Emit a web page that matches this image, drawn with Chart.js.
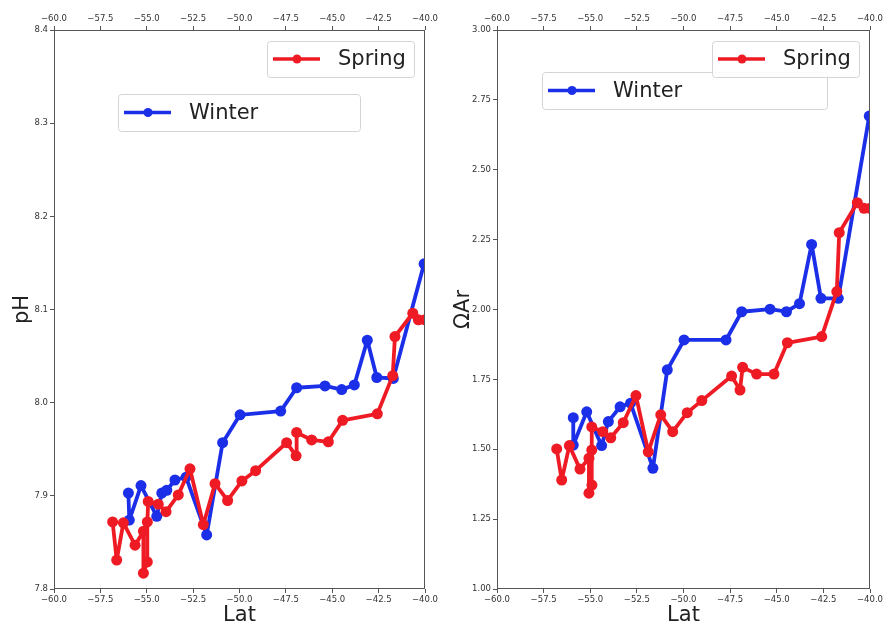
<!DOCTYPE html>
<html>
<head>
<meta charset="utf-8">
<script src="https://cdn.jsdelivr.net/npm/chart.js@4.4.0/dist/chart.umd.min.js"></script>
<style>
  html, body { margin: 0; padding: 0; background: #fff; }
  #wrap { position: relative; width: 883px; height: 627px; overflow: hidden; }
  .panel { position: absolute; top: 0; height: 627px; }
  #left { left: 0; width: 450px; }
  #right { left: 440px; width: 460px; }
</style>
</head>
<body>
<div id="wrap">
  <div class="panel" id="left"><canvas id="phChart"></canvas></div>
  <div class="panel" id="right"><canvas id="arChart"></canvas></div>
</div>
<script>
// Tick values shared by both panels
const latTicks = [-60, -57.5, -55, -52.5, -50, -47.5, -45, -42.5, -40];
const phTicks = [7.8, 7.9, 8.0, 8.1, 8.2, 8.3, 8.4];
const arTicks = [1.00, 1.25, 1.50, 1.75, 2.00, 2.25, 2.50, 2.75, 3.00];

// pH along the transect (latitude, pH), in sampling order
const phWinterLat = [-55.99, -55.94, -55.31, -54.46, -54.19, -53.92, -53.48, -52.88, -51.77, -50.91,
                     -49.97, -47.78, -46.92, -45.39, -44.49, -43.81, -43.11, -42.60, -41.71, -40.05];
const phWinterVal = [7.903, 7.874, 7.911, 7.878, 7.903, 7.906, 7.917, 7.920, 7.858, 7.957,
                     7.987, 7.991, 8.016, 8.018, 8.014, 8.019, 8.067, 8.027, 8.026, 8.149];

const phSpringLat = [-56.84, -56.62, -56.26, -55.63, -55.18, -55.18, -54.97, -54.97, -54.92, -54.38,
                     -53.96, -53.30, -52.67, -51.95, -51.32, -50.64, -49.87, -49.13, -47.46, -46.95,
                     -46.92, -46.11, -45.21, -44.44, -42.57, -41.74, -41.62, -40.66, -40.36, -40.00];
const phSpringVal = [7.872, 7.831, 7.871, 7.847, 7.862, 7.817, 7.829, 7.872, 7.894, 7.891,
                     7.883, 7.901, 7.929, 7.869, 7.913, 7.895, 7.916, 7.927, 7.957, 7.943,
                     7.968, 7.960, 7.958, 7.981, 7.988, 8.029, 8.071, 8.096, 8.089, 8.089];

// Aragonite saturation state along the transect
const arWinterLat = [-55.91, -55.91, -55.19, -54.39, -54.03, -53.40, -52.84, -51.64, -50.87, -49.97,
                     -47.72, -46.88, -45.36, -44.48, -43.78, -43.13, -42.63, -41.70, -40.04];
const arWinterVal = [1.613, 1.515, 1.634, 1.513, 1.599, 1.652, 1.665, 1.432, 1.784, 1.891,
                     1.891, 1.992, 2.001, 1.992, 2.021, 2.233, 2.040, 2.040, 2.692];

const arSpringLat = [-56.80, -56.53, -56.12, -55.55, -55.07, -55.07, -54.91, -54.92, -54.92, -54.33,
                     -53.90, -53.23, -52.55, -51.89, -51.22, -50.58, -49.80, -49.02, -47.42, -46.97,
                     -46.83, -46.08, -45.15, -44.43, -42.59, -41.78, -41.65, -40.68, -40.32, -40.00];
const arSpringVal = [1.501, 1.390, 1.513, 1.429, 1.468, 1.343, 1.372, 1.497, 1.580, 1.563,
                     1.541, 1.595, 1.692, 1.491, 1.623, 1.563, 1.631, 1.674, 1.762, 1.712,
                     1.793, 1.769, 1.769, 1.881, 1.903, 2.064, 2.275, 2.382, 2.362, 2.362];

const BLUE = '#1b2fe8';
const RED = '#ef1b24';
const FONT = '"DejaVu Sans", "Liberation Sans", sans-serif';

const toPoints = (xs, ys) => xs.map((x, i) => ({ x: x, y: ys[i] }));
const minus = s => s.replace('-', '\u2212');

// Full box around the plotting area (drawn above the lines)
const frame = {
  id: 'axesFrame',
  afterDatasetsDraw(chart) {
    const { ctx, chartArea: a } = chart;
    ctx.save();
    ctx.strokeStyle = '#555';
    ctx.lineWidth = 1;
    ctx.strokeRect(Math.round(a.left) + 0.5, Math.round(a.top) + 0.5,
                   Math.round(a.right - a.left) - 1, Math.round(a.bottom - a.top) - 1);
    ctx.restore();
  }
};

// Separate boxed legend entries, one per series
const boxLegend = {
  id: 'boxLegend',
  afterDraw(chart, args, opts) {
    const ctx = chart.ctx;
    for (const it of opts.items) {
      const ds = chart.data.datasets[it.dataset];
      const cy = it.y + it.h / 2;
      ctx.save();
      ctx.beginPath();
      ctx.roundRect(it.x + 0.5, it.y + 0.5, it.w, it.h, 3);
      ctx.fillStyle = 'rgba(255,255,255,0.85)';
      ctx.fill();
      ctx.strokeStyle = '#d4d4d4';
      ctx.lineWidth = 1;
      ctx.stroke();
      ctx.beginPath();
      ctx.moveTo(it.x + 6, cy);
      ctx.lineTo(it.x + 53, cy);
      ctx.strokeStyle = ds.borderColor;
      ctx.lineWidth = 3.5;
      ctx.stroke();
      ctx.beginPath();
      ctx.arc(it.x + 30, cy, 4.5, 0, Math.PI * 2);
      ctx.fillStyle = ds.borderColor;
      ctx.fill();
      ctx.font = '21px ' + FONT;
      ctx.fillStyle = '#222';
      ctx.textBaseline = 'middle';
      ctx.textAlign = 'left';
      ctx.fillText(ds.label, it.x + 71, cy + 1);
      ctx.restore();
    }
  }
};

function series(label, color, pts) {
  return {
    label: label,
    data: pts,
    borderColor: color,
    backgroundColor: color,
    pointBackgroundColor: color,
    pointBorderWidth: 0,
    pointRadius: 5.5,
    borderWidth: 3.8,
    borderJoinStyle: 'round',
    borderCapStyle: 'round',
    tension: 0,
    clip: 0
  };
}

function makeChart(canvasId, cfg) {
  const tickFont = { family: FONT, size: 8.5 };
  const tickGrid = { drawOnChartArea: false, drawTicks: true, tickLength: 4, color: '#555' };
  const latScale = (pos, showTitle, h) => ({
    type: 'linear',
    position: pos,
    min: -60, max: -40,
    afterBuildTicks: s => { s.ticks = latTicks.map(v => ({ value: v })); },
    afterFit: s => { s.height = h; },
    ticks: {
      autoSkip: false, maxRotation: 0, padding: 2, color: '#333', font: tickFont,
      callback: v => minus(Number(v).toFixed(1))
    },
    grid: tickGrid,
    border: { display: false },
    title: {
      display: showTitle, text: 'Lat', color: '#222',
      font: { family: FONT, size: 21, lineHeight: 1 },
      padding: { top: 0, bottom: 1 }
    }
  });
  return new Chart(document.getElementById(canvasId), {
    type: 'line',
    data: { datasets: cfg.datasets },
    options: {
      responsive: true,
      maintainAspectRatio: false,
      animation: false,
      layout: { padding: { left: 0, right: cfg.padRight, top: 0, bottom: 0 } },
      scales: {
        x: latScale('bottom', true, 38),
        xTop: latScale('top', false, 30),
        y: {
          type: 'linear',
          position: 'left',
          min: cfg.yTicks[0], max: cfg.yTicks[cfg.yTicks.length - 1],
          afterBuildTicks: s => { s.ticks = cfg.yTicks.map(v => ({ value: v })); },
          afterFit: s => { s.width = cfg.yWidth; },
          ticks: {
            padding: 2, color: '#333', font: tickFont,
            callback: v => Number(v).toFixed(cfg.yDigits)
          },
          grid: tickGrid,
          border: { display: false },
          title: {
            display: true, text: cfg.yTitle, color: '#222',
            font: { family: FONT, size: 21, lineHeight: 1 },
            padding: { top: cfg.yTitlePad, bottom: 0 }
          }
        }
      },
      plugins: {
        legend: { display: false },
        tooltip: { enabled: false },
        boxLegend: { items: cfg.legendItems }
      }
    },
    plugins: [frame, boxLegend]
  });
}

// Left panel: pH
makeChart('phChart', {
  datasets: [
    series('Spring', RED, toPoints(phSpringLat, phSpringVal)),
    series('Winter', BLUE, toPoints(phWinterLat, phWinterVal))
  ],
  yTicks: phTicks, yDigits: 1, yTitle: 'pH', yWidth: 54, yTitlePad: 12.5, padRight: 25,
  legendItems: [
    { dataset: 1, x: 118, y: 94, w: 242, h: 37 },
    { dataset: 0, x: 267, y: 41, w: 147, h: 36 }
  ]
});

// Right panel: aragonite saturation state
makeChart('arChart', {
  datasets: [
    series('Spring', RED, toPoints(arSpringLat, arSpringVal)),
    series('Winter', BLUE, toPoints(arWinterLat, arWinterVal))
  ],
  yTicks: arTicks, yDigits: 2, yTitle: '\u03A9Ar', yWidth: 57, yTitlePad: 13, padRight: 30,
  legendItems: [
    { dataset: 1, x: 102, y: 72, w: 285, h: 37 },
    { dataset: 0, x: 272, y: 41, w: 147, h: 36 }
  ]
});
</script>
</body>
</html>
